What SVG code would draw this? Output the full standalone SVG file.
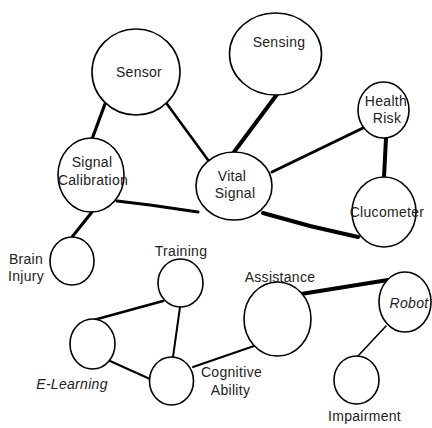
<svg xmlns="http://www.w3.org/2000/svg" width="432" height="428" viewBox="0 0 432 428">
<style>
.n{fill:#fff;stroke:#000;stroke-width:1.6}
.t{font-family:"Liberation Sans",Arial,sans-serif;font-size:14px;letter-spacing:0.3px;fill:#222;text-anchor:middle}
.i{font-style:italic}
.c{stroke:#000;stroke-linecap:round;fill:none}
</style>
<rect width="432" height="428" fill="#fff"/>
<g id="connectors">
<line class="c" x1="105" y1="104" x2="92" y2="139" stroke-width="3.2"/>
<line class="c" x1="167" y1="104" x2="208" y2="160" stroke-width="2.6"/>
<line class="c" x1="278" y1="93" x2="234" y2="152" stroke-width="4"/>
<line class="c" x1="272" y1="172" x2="363" y2="128" stroke-width="3"/>
<line class="c" x1="386" y1="138" x2="384" y2="177" stroke-width="4"/>
<polyline class="c" points="263,213 310,226 358,237" stroke-width="4"/>
<polyline class="c" points="117,201 150,205 198,212" stroke-width="3"/>
<line class="c" x1="92" y1="212" x2="72" y2="237" stroke-width="3"/>
<line class="c" x1="163" y1="301" x2="90" y2="321" stroke-width="2.6"/>
<line class="c" x1="180" y1="307" x2="173" y2="357" stroke-width="2"/>
<line class="c" x1="110" y1="361" x2="150" y2="379" stroke-width="2"/>
<line class="c" x1="193" y1="367" x2="254" y2="346" stroke-width="2"/>
<line class="c" x1="301" y1="294" x2="388" y2="280" stroke-width="4"/>
<line class="c" x1="386" y1="326" x2="358" y2="356" stroke-width="1.6"/>
</g>
<g id="sensor"><ellipse class="n" cx="136" cy="72" rx="44" ry="43"/><text class="t" x="139" y="77">Sensor</text></g>
<g id="sensing"><ellipse class="n" cx="275.5" cy="54" rx="46" ry="41"/><text class="t" x="279" y="47">Sensing</text></g>
<g id="health-risk"><ellipse class="n" cx="383.5" cy="110" rx="25.5" ry="28"/><text class="t" x="386" y="106">Health</text><text class="t" x="387" y="123">Risk</text></g>
<g id="signal-calibration"><ellipse class="n" cx="91" cy="175" rx="33" ry="37"/><text class="t" x="92" y="167">Signal</text><text class="t" x="93" y="185">Calibration</text></g>
<g id="vital-signal"><ellipse class="n" cx="234" cy="186" rx="38" ry="34"/><text class="t" x="232" y="181">Vital</text><text class="t" x="235" y="198">Signal</text></g>
<g id="glucometer"><ellipse class="n" cx="384" cy="212" rx="32" ry="35"/><text class="t" x="387" y="217">Clucometer</text></g>
<g id="brain-injury"><ellipse class="n" cx="72" cy="261" rx="22" ry="24"/><text class="t" x="26" y="264">Brain</text><text class="t" x="26" y="281">Injury</text></g>
<g id="training"><ellipse class="n" cx="180.5" cy="283" rx="22.5" ry="24"/><text class="t" x="181" y="256">Training</text></g>
<g id="e-learning"><ellipse class="n" cx="92.5" cy="344" rx="22.5" ry="25"/><text class="t i" x="72" y="389">E-Learning</text></g>
<g id="cognitive-ability"><ellipse class="n" cx="171.5" cy="381" rx="22" ry="24"/><text class="t" x="231.5" y="377">Cognitive</text><text class="t" x="230.5" y="395">Ability</text></g>
<g id="assistance"><ellipse class="n" cx="277.5" cy="319" rx="33.5" ry="37"/><text class="t" x="280" y="282">Assistance</text></g>
<g id="robot"><ellipse class="n" cx="405" cy="302" rx="26" ry="30"/><text class="t i" x="409" y="308">Robot</text></g>
<g id="impairment"><ellipse class="n" cx="356.5" cy="380" rx="22.5" ry="24"/><text class="t" x="364.5" y="421">Impairment</text></g>
</svg>
